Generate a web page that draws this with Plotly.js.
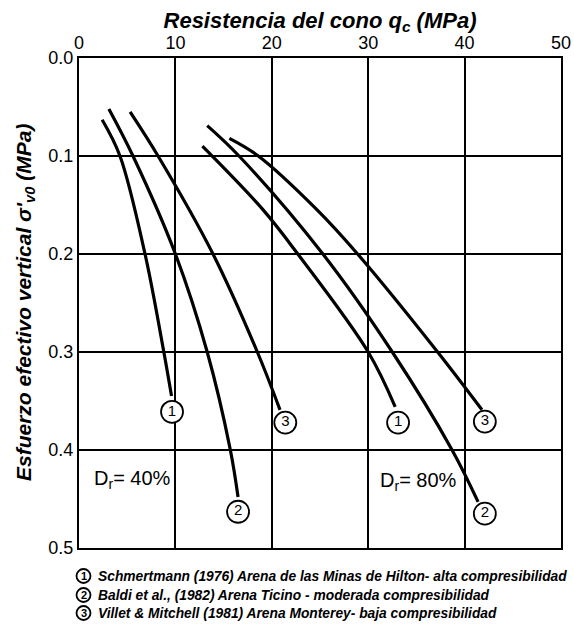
<!DOCTYPE html>
<html>
<head>
<meta charset="utf-8">
<script src="https://cdn.plot.ly/plotly-3.0.1.min.js"></script>
<style>html,body{margin:0;padding:0;background:#fff;}#chart{width:574px;height:627px;}</style>
</head>
<body>
<div id="chart"></div>
<script>
// Dr = 40 %
const c1_40_x = [2.4, 4.25, 6.85, 8.8, 9.6];
const c1_40_y = [0.063, 0.1, 0.2, 0.3, 0.345];
const c2_40_x = [3.1, 5.6, 10.0, 13.3, 15.7, 16.5];
const c2_40_y = [0.052, 0.1, 0.2, 0.3, 0.4, 0.448];
const c3_40_x = [5.3, 8.2, 13.9, 18.5, 20.85];
const c3_40_y = [0.055, 0.1, 0.2, 0.3, 0.359];
// Dr = 80 %
const c1_80_x = [12.8, 19.1, 22.7, 30.0, 32.8];
const c1_80_y = [0.090, 0.155, 0.2, 0.3, 0.356];
const c2_80_x = [13.3, 16.6, 25.3, 32.5, 38.7, 41.4];
const c2_80_y = [0.069, 0.1, 0.2, 0.3, 0.4, 0.453];
const c3_80_x = [15.6, 18.6, 24.7, 28.9, 37.2, 41.8];
const c3_80_y = [0.082, 0.1, 0.155, 0.2, 0.3, 0.359];
// curve labels
const lab_x = [9.65, 16.5, 21.4, 33.1, 42.1, 42.1];
const lab_y = [0.361, 0.463, 0.372, 0.372, 0.465, 0.371];
const lab_t = ['1', '2', '3', '1', '2', '3'];
// texts
const xTicks = [0, 10, 20, 30, 40, 50];
const yTicks = [0.0, 0.1, 0.2, 0.3, 0.4, 0.5];
const legendNums = ['1', '2', '3'];
const legendLines = [
  'Schmertmann (1976) Arena de las Minas de Hilton- alta compresibilidad',
  'Baldi et al., (1982) Arena Ticino - moderada compresibilidad',
  'Villet & Mitchell (1981) Arena Monterey- baja compresibilidad'
];

const FONT = 'Liberation Sans, Arial, sans-serif';
function curve(x, y) {
  return {x: x, y: y, type: 'scatter', mode: 'lines', line: {color: '#000', width: 3.2, shape: 'spline', smoothing: 1}, hoverinfo: 'skip', showlegend: false};
}
const traces = [
  curve(c1_40_x, c1_40_y), curve(c2_40_x, c2_40_y), curve(c3_40_x, c3_40_y),
  curve(c1_80_x, c1_80_y), curve(c2_80_x, c2_80_y), curve(c3_80_x, c3_80_y),
  {x: lab_x, y: lab_y, text: lab_t, type: 'scatter', mode: 'markers+text', textposition: 'middle center',
   textfont: {family: FONT, size: 15, color: '#000'},
   marker: {symbol: 'circle', size: 22, color: '#fff', line: {color: '#000', width: 1.8}}, showlegend: false, hoverinfo: 'skip'}
];

const PX = function (p) { return (p - 79) / 482; };
const PY = function (p) { return (548 - p) / 490; };
const annotations = [
  {xref: 'x', yref: 'y', x: 1.3, y: 0.43, xanchor: 'left', yanchor: 'middle', showarrow: false,
   text: 'D<sub>r</sub>= 40%', font: {family: FONT, size: 20, color: '#000'}},
  {xref: 'x', yref: 'y', x: 31.0, y: 0.432, xanchor: 'left', yanchor: 'middle', showarrow: false,
   text: 'D<sub>r</sub>= 80%', font: {family: FONT, size: 20, color: '#000'}},
  {xref: 'paper', yref: 'paper', x: -0.112, y: 0.5, xanchor: 'center', yanchor: 'middle', textangle: -90, showarrow: false,
   text: "<b><i>Esfuerzo efectivo vertical \u03c3'<sub>v0</sub> (MPa)</i></b>", font: {family: FONT, size: 21, color: '#000'}}
];
const shapes = [];
const legY = [576, 595, 613];
legendLines.forEach(function (t, i) {
  shapes.push({type: 'circle', xref: 'paper', yref: 'paper', x0: PX(76.5), x1: PX(90.5), y0: PY(legY[i] + 7), y1: PY(legY[i] - 7),
    line: {color: '#000', width: 1.8}, fillcolor: 'rgba(0,0,0,0)'});
  annotations.push({xref: 'paper', yref: 'paper', x: PX(83.5), y: PY(legY[i]),
    xanchor: 'center', yanchor: 'middle', showarrow: false,
    text: '<b>' + legendNums[i] + '</b>', font: {family: FONT, size: 11, color: '#000'}});
  annotations.push({xref: 'paper', yref: 'paper', x: PX(96), y: PY(legY[i]),
    xanchor: 'left', yanchor: 'middle', showarrow: false,
    text: '<b><i>' + t + '</i></b>', font: {family: FONT, size: 13.8, color: '#000'}});
});

const layout = {
  width: 574, height: 627,
  margin: {l: 79, r: 13, t: 58, b: 79},
  paper_bgcolor: '#fff', plot_bgcolor: '#fff',
  font: {family: FONT, color: '#000'},
  showlegend: false,
  title: {text: '<b><i>Resistencia del cono q<sub>c</sub> (MPa)</i></b>', font: {family: FONT, size: 22, color: '#000'},
          xref: 'paper', x: 0.5, xanchor: 'center', yref: 'container', y: 0.968, yanchor: 'middle'},
  xaxis: {range: [0, 50], side: 'top', tickvals: xTicks, ticktext: xTicks.map(String), showgrid: true, gridcolor: '#000', gridwidth: 2,
          zeroline: false, showline: true, linecolor: '#000', linewidth: 2.2, mirror: true, ticks: '',
          tickfont: {family: FONT, size: 18, color: '#000'}, fixedrange: true},
  yaxis: {range: [0.5, 0], tickvals: yTicks, ticktext: yTicks.map(function (v) { return v.toFixed(1); }), showgrid: true, gridcolor: '#000', gridwidth: 2,
          zeroline: false, showline: true, linecolor: '#000', linewidth: 2.2, mirror: true, ticks: '',
          tickfont: {family: FONT, size: 18, color: '#000'}, fixedrange: true},
  shapes: shapes,
  annotations: annotations
};
Plotly.newPlot('chart', traces, layout, {displayModeBar: false, staticPlot: true});
</script>
</body>
</html>
